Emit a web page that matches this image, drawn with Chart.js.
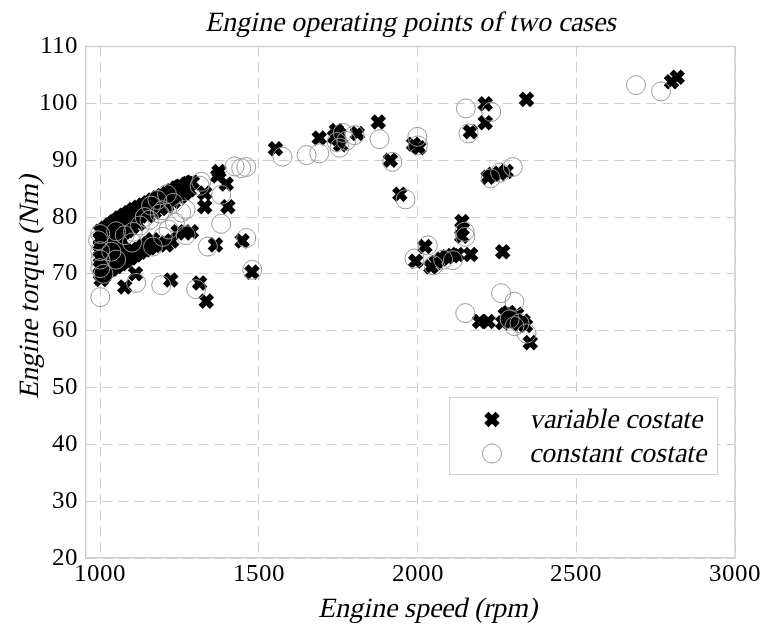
<!DOCTYPE html>
<html>
<head>
<meta charset="utf-8">
<script src="https://cdn.jsdelivr.net/npm/chart.js@4/dist/chart.umd.min.js"></script>
<style>
  @font-face {
    font-family: 'ChartSerif';
    font-style: normal;
    font-weight: 400;
    src: local('Liberation Serif'), local('LiberationSerif'), local('Liberation Serif Regular'),
         local('Times New Roman'), local('TimesNewRomanPSMT'), local('Tinos'),
         local('DejaVu Serif'), local('DejaVuSerif');
  }
  html, body { margin: 0; padding: 0; background: #ffffff; }
  canvas { display: block; }
</style>
</head>
<body>
<canvas id="chart" width="764" height="626"></canvas>
<script>
// Engine operating points (speed in rpm, torque in Nm)
const variableSpeed = [
  2800, 2818, 2343, 2213, 2213, 2166, 1876, 1810,
  1744, 1749, 1757, 1738, 1752, 1690, 1552, 1987, 2004, 1914, 1944,
  2222, 2238, 2258, 2279, 2140, 2140, 2139, 2167, 2268,
  1994, 2023, 2042, 2058, 2075, 2093, 2110, 2125,
  2195, 2222, 2268, 2276, 2287, 2296, 2305, 2312, 2320, 2332, 2340, 2355,
  1374, 1370, 1397, 1329, 1329, 1402, 1287, 1266, 1245, 1363, 1447, 1478,
  1313, 1334, 1222, 1111, 1077, 1208, 1276, 1250, 1290,
  1000, 1015, 1030, 1045, 1060, 1075, 1090, 1105, 1120, 1135, 1150, 1165, 1180, 1195, 1210, 1225, 1240, 1255, 1270, 1285,
  1005, 1020, 1035, 1050, 1065, 1080, 1095, 1110, 1125, 1140, 1160, 1180, 1200, 1220,
  1010, 1025, 1040, 1055, 1070, 1085, 1100, 1120,
  1000, 1000, 1000, 1000, 1000, 1000, 1003, 1010, 1020, 1035, 1050, 1065, 1080, 1095, 1110, 1125, 1140, 1155, 1170, 1185, 1225,
  1010, 1030, 1050, 1070,
  1020, 1040, 1060,
  1015, 1030, 1045, 1060, 1075, 1090, 1105, 1120, 1135, 1150, 1165,
  1150, 1170, 1190, 1210, 1230, 1250, 1265, 1280
];
const variableTorque = [
  103.8, 104.6, 100.7, 99.9, 96.6, 95.0, 96.7, 94.7,
  95.2, 93.8, 92.7, 94.1, 94.6, 93.9, 92.0, 92.8, 92.2, 90.0, 84.0,
  87.0, 87.5, 87.7, 88.0, 79.2, 77.9, 76.6, 73.4, 73.9,
  72.2, 74.8, 71.2, 72.0, 72.6, 73.0, 73.2, 73.4,
  61.6, 61.6, 61.4, 62.8, 63.2, 62.3, 61.7, 62.9, 61.2, 61.7, 60.9, 57.9,
  88.0, 87.2, 85.8, 84.2, 81.8, 81.8, 77.4, 77.2, 77.4, 75.1, 75.8, 70.3,
  68.4, 65.2, 68.9, 70.0, 67.7, 75.1, 85.9, 85.3, 86.1,
  77.5, 78.0, 78.6, 79.2, 79.8, 80.3, 80.8, 81.3, 81.7, 82.1, 82.5, 83.0, 83.4, 83.8, 84.1, 84.6, 85.1, 85.4, 85.7, 86.0,
  76.0, 76.8, 77.4, 78.0, 78.5, 79.0, 79.5, 80.0, 80.4, 80.9, 81.4, 82.0, 82.6, 83.1,
  74.5, 75.3, 76.0, 76.6, 77.1, 77.6, 78.2, 78.8,
  70.0, 71.0, 73.0, 74.0, 75.0, 76.0, 69.0, 69.5, 70.3, 70.8, 71.3, 71.8, 72.3, 72.8, 73.3, 73.8, 74.2, 74.6, 75.0, 75.4, 75.8,
  73.0, 74.5, 75.2, 75.8,
  73.2, 74.0, 74.6,
  71.5, 72.2, 72.0, 72.8, 73.3, 73.7, 74.0, 74.3, 74.8, 75.3, 76.0,
  80.2, 80.9, 81.5, 82.0, 82.7, 83.5, 84.2, 84.8
];
const constantSpeed = [
  2688, 2767, 2152, 2232, 2160, 1999, 2001, 1962, 1920, 1880,
  1764, 1754, 1801, 1775, 1745, 1690, 1650, 1574, 1423, 1444, 1460,
  2300, 2230, 2260, 2148, 2150, 2032, 2111, 2080, 1990, 2050,
  2263, 2305, 2150, 2321, 2305, 2343, 2290,
  1000, 1113, 1192, 1302, 1381, 1339, 1460, 1479,
  1269, 1269, 1318, 1381, 1197, 1313, 1230, 1255,
  1035, 1077, 1103, 1155, 1187, 1197, 1166, 993, 1000, 1000, 1000, 1000, 1010,
  1050, 1125, 1140, 1160, 1180, 1210, 1100, 1215, 1050, 1235
];
const constantTorque = [
  103.2, 102.1, 99.1, 98.5, 94.7, 94.1, 92.6, 83.1, 89.7, 93.7,
  94.8, 92.2, 94.4, 93.4, 93.2, 91.2, 90.9, 90.6, 88.9, 88.6, 88.8,
  88.8, 86.8, 87.8, 77.4, 76.5, 75.0, 72.4, 72.5, 72.7, 71.5,
  66.6, 65.1, 63.1, 61.3, 60.8, 59.5, 62.0,
  65.9, 68.4, 68.0, 67.3, 78.8, 74.8, 76.3, 70.7,
  81.3, 76.8, 86.2, 83.9, 81.2, 85.5, 82.5, 80.8,
  73.9, 76.8, 77.4, 79.5, 80.6, 76.5, 74.8, 75.9, 74.0, 72.5, 71.0, 77.0, 70.0,
  72.5, 78.5, 80.0, 82.0, 83.0, 84.0, 75.5, 77.8, 77.5, 79.0
];

const speedTicks = [1000, 1500, 2000, 2500, 3000];
const torqueTicks = [20, 30, 40, 50, 60, 70, 80, 90, 100, 110];
const seriesNames = ['variable costate', 'constant costate'];
const chartTitle = 'Engine operating points of two cases';
const speedLabel = 'Engine speed (rpm)';
const torqueLabel = 'Engine torque (Nm)';

const SERIF = 'ChartSerif, "Liberation Serif", "Times New Roman", serif';
const SLANT = -0.21;

const toPoints = (xs, ys) => xs.map((x, i) => ({ x: x, y: ys[i] }));

// Slanted serif text (the upright face sheared into an italic look)
function slantText(ctx, text, x, y, opts) {
  ctx.save();
  ctx.fillStyle = '#000000';
  ctx.font = (opts.size || 28) + 'px ' + SERIF;
  ctx.textAlign = opts.align || 'left';
  ctx.textBaseline = opts.baseline || 'alphabetic';
  ctx.translate(x, y);
  if (opts.rotate) ctx.rotate(opts.rotate);
  ctx.transform(1, 0, SLANT, 1, 0, 0);
  ctx.fillText(text, 0, 0);
  ctx.restore();
}

// Boxed legend inside the plot area, lower right
const boxLegend = {
  id: 'boxLegend',
  afterDatasetsDraw(chart) {
    const ctx = chart.ctx;
    const ca = chart.chartArea;
    const left = ca.left + 0.5593 * (ca.right - ca.left);
    const top = ca.top + 0.6852 * (ca.bottom - ca.top);
    const w = 268, h = 77;
    ctx.save();
    ctx.fillStyle = '#ffffff';
    ctx.fillRect(left, top, w, h);
    ctx.strokeStyle = '#cfcfcf';
    ctx.lineWidth = 1;
    ctx.strokeRect(left + 0.5, top + 0.5, w, h);
    ctx.restore();
    chart.data.datasets.forEach((ds, i) => {
      const cy = top + 22.5 + i * 34;
      const cx = left + 43;
      ctx.save();
      ctx.strokeStyle = ds.pointBorderColor;
      ctx.fillStyle = ds.pointBackgroundColor;
      ctx.lineWidth = ds.pointBorderWidth;
      Chart.helpers.drawPoint(ctx, {
        pointStyle: ds.pointStyle,
        radius: ds.pointRadius,
        borderWidth: ds.pointBorderWidth,
        rotation: 0
      }, cx, cy);
      ctx.restore();
      slantText(ctx, ds.label, left + 80, cy + 9, { size: 28 });
    });
  }
};

// Solid frame on the top and right edges, plus the chart and axis titles
const frame = {
  id: 'frame',
  beforeDatasetsDraw(chart) {
    const ctx = chart.ctx;
    const ca = chart.chartArea;
    ctx.save();
    ctx.strokeStyle = '#d0d0d0';
    ctx.lineWidth = 1.5;
    ctx.beginPath();
    ctx.moveTo(ca.left, ca.top);
    ctx.lineTo(ca.right, ca.top);
    ctx.lineTo(ca.right, ca.bottom);
    ctx.stroke();
    ctx.restore();
  },
  afterDraw(chart) {
    const ctx = chart.ctx;
    const ca = chart.chartArea;
    const w = ca.right - ca.left;
    const h = ca.bottom - ca.top;
    slantText(ctx, chartTitle, ca.left + 0.5 * w, 31, { align: 'center', size: 28 });
    slantText(ctx, speedLabel, ca.left + 0.526 * w, ca.bottom + 59, { align: 'center', size: 28 });
    slantText(ctx, torqueLabel, 38, ca.top + 0.47 * h, { align: 'center', size: 28, rotate: -Math.PI / 2 });
  }
};

function draw() {
  new Chart(document.getElementById('chart'), {
    type: 'scatter',
    data: {
      datasets: [
        {
          label: seriesNames[0],
          data: toPoints(variableSpeed, variableTorque),
          pointStyle: 'crossRot',
          pointRadius: 8,
          pointBorderWidth: 6,
          pointBorderColor: '#000000',
          pointBackgroundColor: '#000000',
          order: 2
        },
        {
          label: seriesNames[1],
          data: toPoints(constantSpeed, constantTorque),
          pointStyle: 'circle',
          pointRadius: 9.5,
          pointBorderWidth: 1,
          pointBorderColor: '#9a9a9a',
          pointBackgroundColor: 'rgba(255,255,255,0)',
          order: 1
        }
      ]
    },
    options: {
      responsive: false,
      animation: false,
      devicePixelRatio: 1,
      events: [],
      layout: { padding: { left: 0, right: 29, top: 46.5, bottom: 0 } },
      plugins: {
        legend: { display: false },
        tooltip: { enabled: false },
        title: { display: false, text: chartTitle }
      },
      scales: {
        x: {
          type: 'linear',
          min: 955,
          max: 3000,
          afterFit(s) { s.height = 68; },
          afterBuildTicks(s) { s.ticks = speedTicks.map(v => ({ value: v })); },
          grid: { color: '#cccccc', lineWidth: 1, drawTicks: false },
          border: { display: true, color: '#d0d0d0', width: 1.5, dash: [10, 6] },
          ticks: {
            color: '#000000',
            padding: 1,
            maxRotation: 0,
            font: { family: SERIF, size: 25 },
            callback: (v) => String(v)
          },
          title: { display: false, text: speedLabel }
        },
        y: {
          type: 'linear',
          min: 20,
          max: 110,
          afterFit(s) { s.width = 86; },
          afterBuildTicks(s) { s.ticks = torqueTicks.map(v => ({ value: v })); },
          grid: { color: '#cccccc', lineWidth: 1, drawTicks: false },
          border: { display: true, color: '#d0d0d0', width: 1.5, dash: [10, 6] },
          ticks: {
            color: '#000000',
            padding: 8,
            font: { family: SERIF, size: 25 },
            callback: (v) => String(v)
          },
          title: { display: false, text: torqueLabel }
        }
      }
    },
    plugins: [frame, boxLegend]
  });
}

document.fonts.load('25px ChartSerif').then(draw, draw);
</script>
</body>
</html>
